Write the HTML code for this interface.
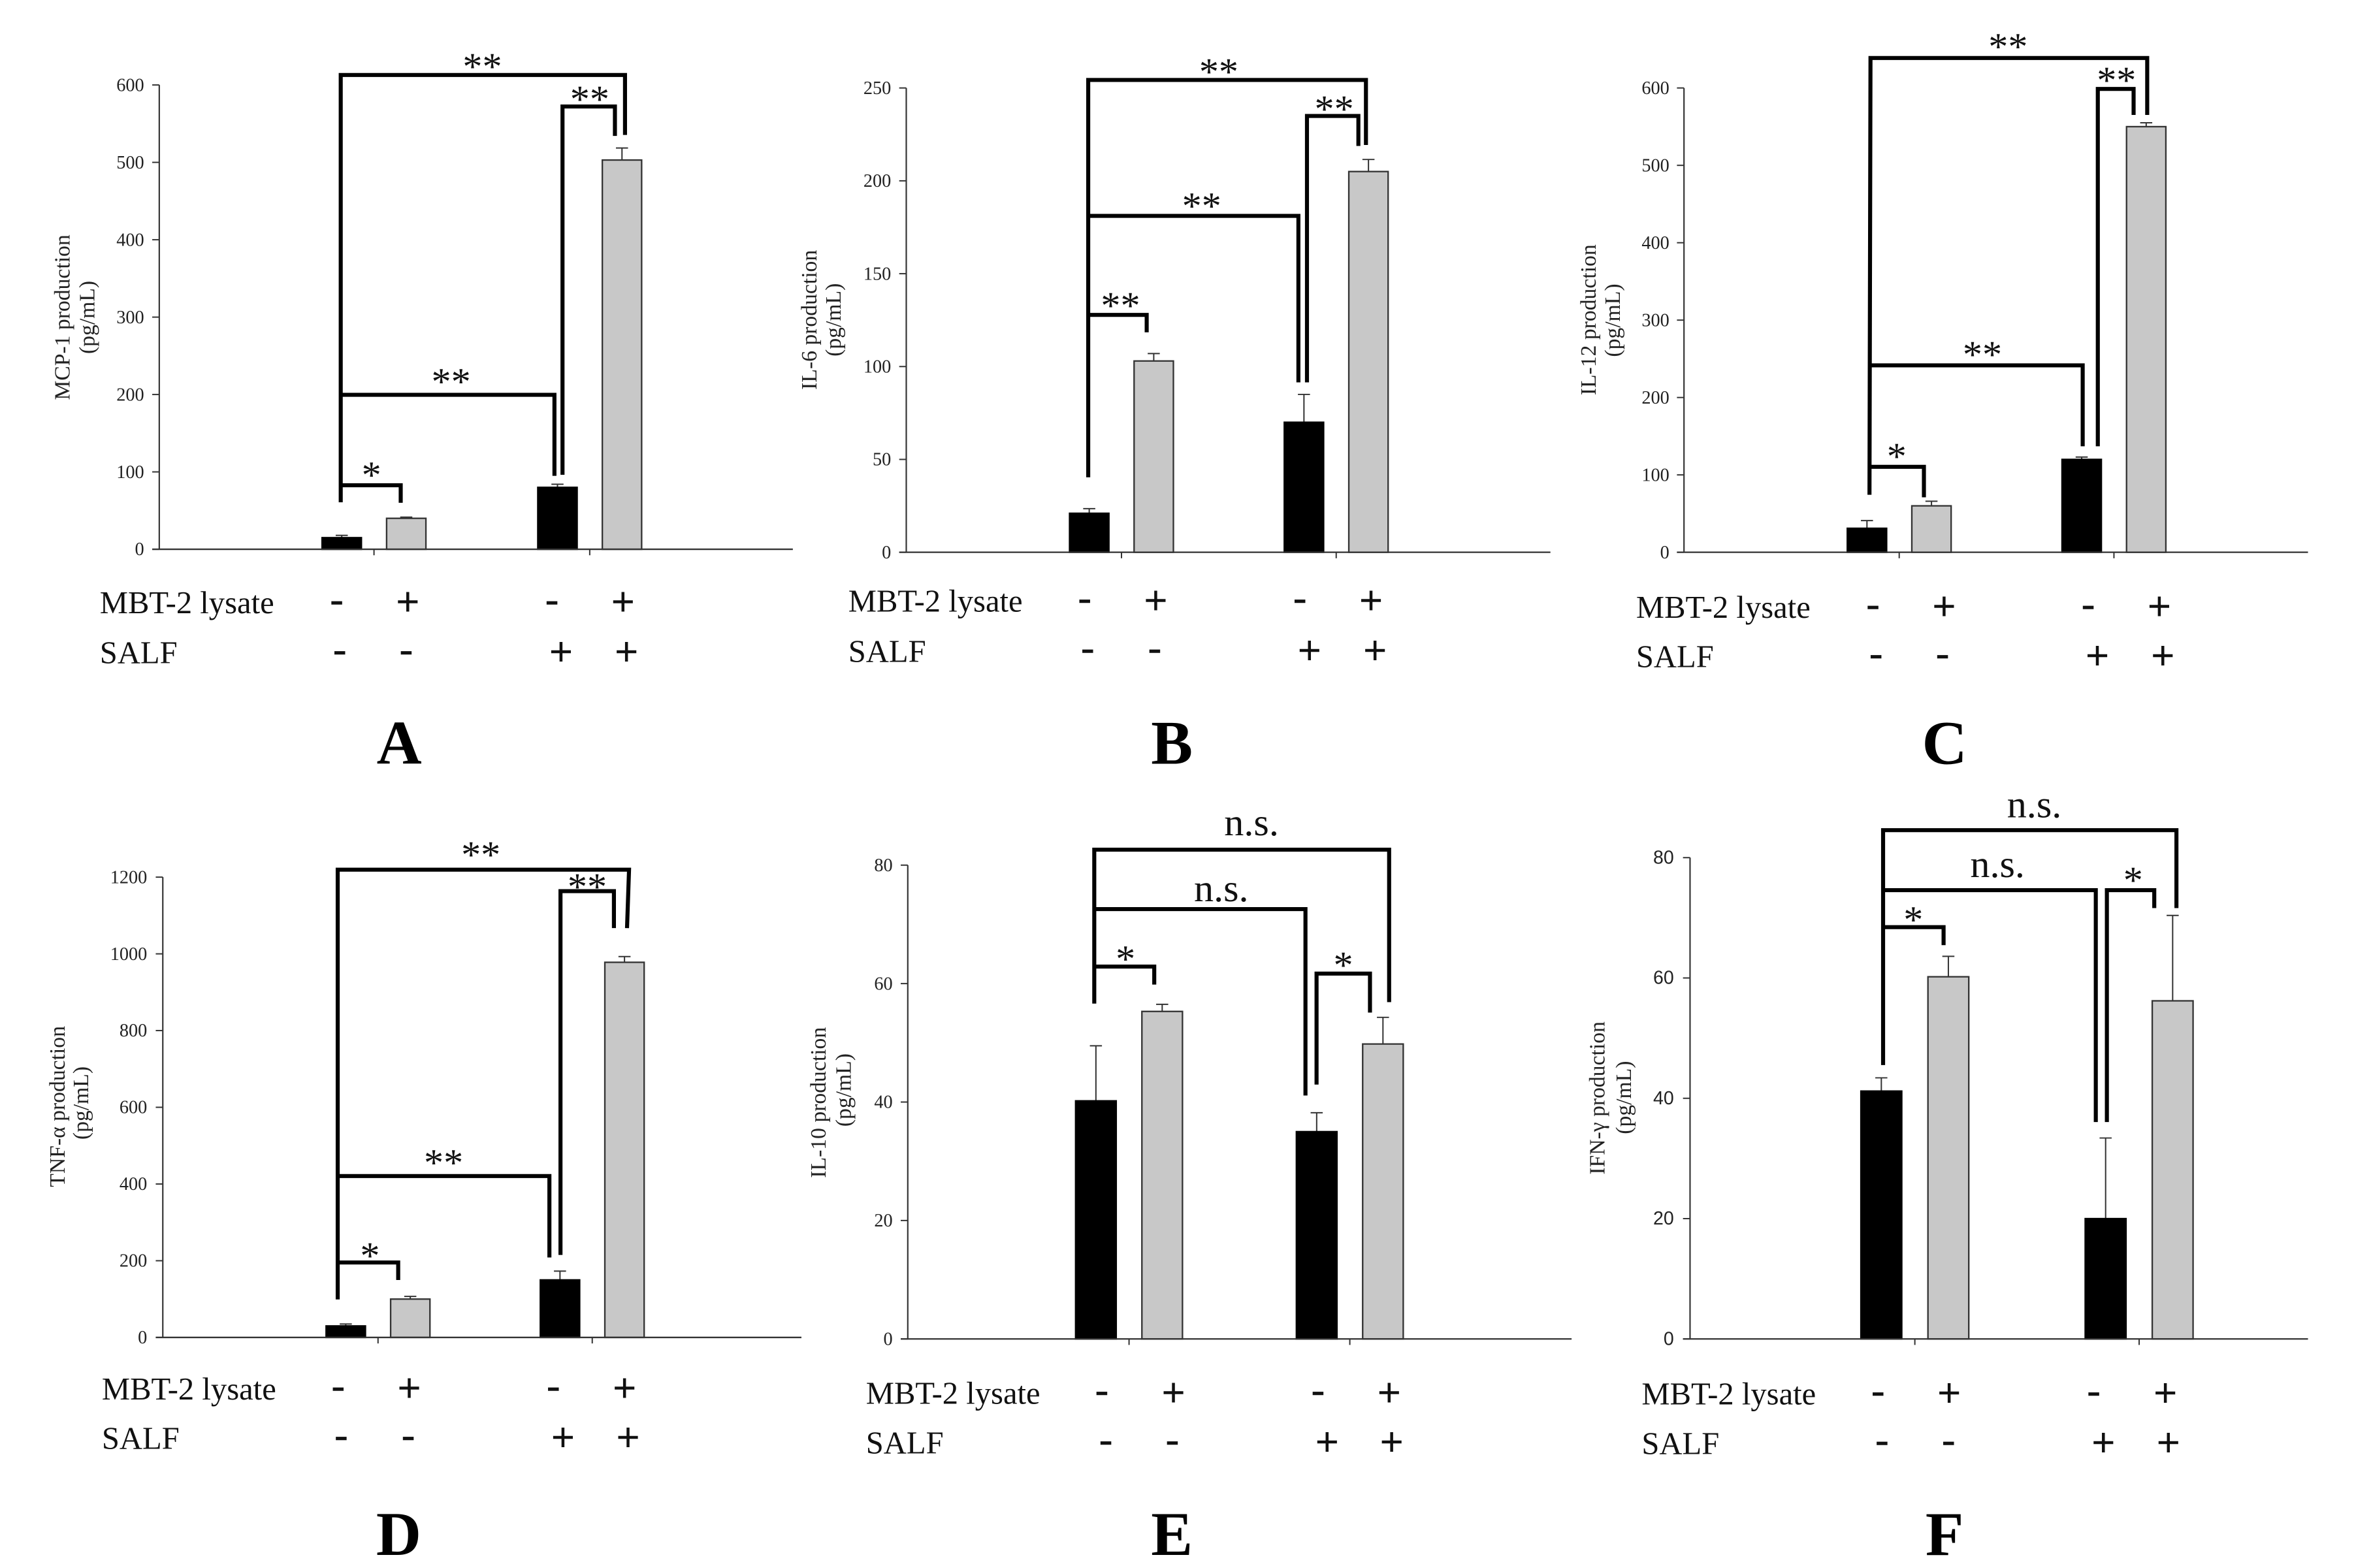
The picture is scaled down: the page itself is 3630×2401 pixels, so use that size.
<!DOCTYPE html>
<html lang="en">
<head>
<meta charset="utf-8">
<title>Cytokine production panels A-F</title>
<style>
html,body{margin:0;padding:0;background:#fff;width:3630px;height:2401px;overflow:hidden}
svg{display:block}
text{font-family:"Liberation Serif",serif}
</style>
</head>
<body>
<svg id="figure" xmlns="http://www.w3.org/2000/svg" width="3630" height="2401" viewBox="0 0 3630 2401"></svg>
<script>
// ---- data arrays ----
const rowLabels = ['MBT-2 lysate', 'SALF'];
const lysateSigns = ['-', '+', '-', '+'];
const salfSigns = ['-', '-', '+', '+'];

const mcp1Values = [15, 40, 80, 503];
const mcp1Errors = [3, 1.5, 4, 15.5];
const mcp1Ticks = [0, 100, 200, 300, 400, 500, 600];

const il6Values = [21, 103, 70, 205];
const il6Errors = [2.5, 4, 15, 6.5];
const il6Ticks = [0, 50, 100, 150, 200, 250];

const il12Values = [31, 60, 120, 550];
const il12Errors = [10, 6, 3, 5];
const il12Ticks = [0, 100, 200, 300, 400, 500, 600];

const tnfValues = [30, 100, 150, 978];
const tnfErrors = [5, 7, 23, 15];
const tnfTicks = [0, 200, 400, 600, 800, 1000, 1200];

const il10Values = [40.2, 55.3, 35, 49.8];
const il10Errors = [9.3, 1.2, 3.2, 4.5];
const il10Ticks = [0, 20, 40, 60, 80];

const ifnValues = [41.2, 60.2, 20, 56.2];
const ifnErrors = [2.2, 3.4, 13.4, 14.2];
const ifnTicks = [0, 20, 40, 60, 80];

// ---- layout (panel-crop units) ----
const panels = [
 {id:'a', letter:'A', ox:0, oy:0, vals:mcp1Values, errs:mcp1Errors, ticks:mcp1Ticks,
  axisX:316, xEnd:1573, y0:1099, yTop:170, t1:742, t2:1170, w:78, gap:25, tickFont:'"Liberation Serif",serif', tickRight:286,
  title:'MCP-1 production', tX:138, tY:635, t2X:187, t2Y:635,
  labelX:198, rows:[1207,1307],
  signs1:[668,809,1095,1236], signs2:[674,806,1113,1243],
  letterX:792, letterY:1530,
  brackets:[[[676,1005],[676,150],[1240,150],[1240,270]],[[1116,950],[1116,213],[1220,213],[1220,272]],[[676,790],[1100,790],[1100,952]],[[678,971],[795,971],[795,1006]]],
  marks:[['**',957,125],['**',1170,190],['**',895,755],['*',737,942]]},
 {id:'b', letter:'B', ox:1210, oy:0, vals:il6Values, errs:il6Errors, ticks:il6Ticks,
  axisX:230, xEnd:1508, y0:1105, yTop:176, t1:657, t2:1083, w:78, gap:25, tickFont:'"Liberation Serif",serif', tickRight:200,
  title:'IL-6 production', tX:52, tY:640, t2X:100, t2Y:640,
  labelX:115, rows:[1204,1304],
  signs1:[584,725,1011,1152], signs2:[590,723,1030,1160],
  letterX:757, letterY:1530,
  brackets:[[[591,955],[591,160],[1142,160],[1142,290]],[[1025,765],[1025,232],[1127,232],[1127,292]],[[591,432],[1008,432],[1008,765]],[[591,630],[707,630],[707,665]]],
  marks:[['**',850,135],['**',1079,210],['**',816,404],['**',655,603]]},
 {id:'c', letter:'C', ox:2420, oy:0, vals:il12Values, errs:il12Errors, ticks:il12Ticks,
  axisX:205, xEnd:1443, y0:1105, yTop:176, t1:632, t2:1058, w:78, gap:25, tickFont:'"Liberation Serif",serif', tickRight:176,
  title:'IL-12 production', tX:30, tY:640, t2X:78, t2Y:641,
  labelX:110, rows:[1216,1315],
  signs1:[580,721,1007,1148], signs2:[586,718,1025,1155],
  letterX:722, letterY:1530,
  brackets:[[[573,990],[575,116],[1124,116],[1124,230]],[[1026,893],[1026,178],[1097,178],[1097,230]],[[575,731],[996,731],[996,893]],[[575,934],[681,934],[681,995]]],
  marks:[['**',848,85],['**',1063,152],['**',797,701],['*',627,905]]},
 {id:'d', letter:'D', ox:0, oy:1200, vals:tnfValues, errs:tnfErrors, ticks:tnfTicks,
  axisX:323, xEnd:1590, y0:1108, yTop:187, t1:750, t2:1175, w:78, gap:25, tickFont:'"Liberation Serif",serif', tickRight:292,
  title:'TNF-\u03B1 production', tX:128, tY:646, t2X:175, t2Y:639,
  labelX:202, rows:[1212,1311],
  signs1:[671,812,1098,1239], signs2:[677,810,1117,1246],
  letterX:791, letterY:1545,
  brackets:[[[670,1032],[670,172],[1248,172],[1244,289]],[[1112,943],[1112,215],[1218,215],[1218,289]],[[672,785],[1090,785],[1090,948]],[[672,958],[790,958],[790,993]]],
  marks:[['**',954,134],['**',1165,198],['**',880,750],['*',734,936]]},
 {id:'e', letter:'E', ox:1210, oy:1200, vals:il10Values, errs:il10Errors, ticks:il10Ticks,
  axisX:233, xEnd:1550, y0:1111, yTop:163, t1:672, t2:1110, w:80.5, gap:25.5, tickFont:'"Liberation Serif",serif', tickRight:203,
  title:'IL-10 production', tX:70, tY:638, t2X:120, t2Y:613,
  labelX:150, rows:[1221,1320],
  signs1:[618,760,1047,1188], signs2:[626,758,1065,1193],
  letterX:757, letterY:1545,
  brackets:[[[603,440],[603,132],[1188,132],[1188,437]],[[605,251],[1022,251],[1022,624]],[[605,366],[722,366],[722,402]],[[1044,602],[1044,380],[1150,380],[1150,458]]],
  marks:[['n.s.',915,103],['n.s.',855,235],['*',665,342],['*',1097,355]]},
 {id:'f', letter:'F', ox:2420, oy:1200, vals:ifnValues, errs:ifnErrors, ticks:ifnTicks,
  axisX:217, xEnd:1443, y0:1111, yTop:148, t1:663, t2:1108, w:81, gap:26, tickFont:'"Liberation Sans",sans-serif', tickRight:185,
  title:'IFN-\u03B3 production', tX:47, tY:629, t2X:100, t2Y:628,
  labelX:121, rows:[1222,1321],
  signs1:[590,731,1018,1160], signs2:[598,730,1037,1166],
  letterX:722, letterY:1545,
  brackets:[[[600,563],[600,93],[1182,93],[1182,249]],[[602,213],[1022,213],[1022,677]],[[1044,677],[1044,213],[1138,213],[1138,249]],[[602,287],[720,287],[720,323]]],
  marks:[['n.s.',900,67],['n.s.',827,187],['*',660,264],['*',1096,185]]}
];

const UNIT_X = 1210 / 1568;
const UNIT_Y = 1200 / 1568;
const NS = 'http://www.w3.org/2000/svg';
const root = document.getElementById('figure');

function make(tag, attrs, parent, content) {
  const node = document.createElementNS(NS, tag);
  for (const k in attrs) node.setAttribute(k, attrs[k]);
  if (content !== undefined) node.textContent = content;
  parent.appendChild(node);
  return node;
}

panels.forEach(function (p) {
  const yOf = function (v) {
    const max = p.ticks[p.ticks.length - 1];
    return p.y0 - (v / max) * (p.y0 - p.yTop);
  };
  const xOf = function (i) {
    const tick = i < 2 ? p.t1 : p.t2;
    return i % 2 === 0 ? tick - p.gap - p.w : tick + p.gap;
  };
  let el;

  const g = make('g', {transform: 'translate(' + p.ox + ',' + p.oy + ') scale(' + UNIT_X + ',' + UNIT_Y + ')'}, root);
  
  

  // bars and error bars
  p.vals.forEach(function (v, i) {
    const x = xOf(i);
    const cx = x + p.w / 2;
    const top = yOf(v + p.errs[i]);
    el = make('line', {x1: cx, x2: cx, y1: yOf(v), y2: top, stroke: '#333', 'stroke-width': 2.6}, g);
    
    
    el = make('line', {x1: cx - 12, x2: cx + 12, y1: top, y2: top, stroke: '#333', 'stroke-width': 2.6}, g);
    
    
    const grey = i % 2 === 1;
    el = make('rect', {
      x: x, y: yOf(v), width: p.w, height: p.y0 - yOf(v),
      fill: grey ? '#c8c8c8' : '#000', stroke: grey ? '#333' : '#000', 'stroke-width': 3
    }, g);
    
    
  });

  // axes
  el = make('line', {x1: p.axisX, x2: p.axisX, y1: p.yTop, y2: p.y0, stroke: '#333', 'stroke-width': 2.8}, g);
  
  
  el = make('line', {x1: p.axisX - 14, x2: p.xEnd, y1: p.y0, y2: p.y0, stroke: '#333', 'stroke-width': 3}, g);
  
  
  [p.t1, p.t2].forEach(function (t, i) {
    el = make('line', {x1: t, x2: t, y1: p.y0, y2: p.y0 + 12, stroke: '#333', 'stroke-width': 2.6}, g);
    
    
  });
  p.ticks.forEach(function (t) {
    const y = yOf(t);
    el = make('line', {x1: p.axisX - 14, x2: p.axisX, y1: y, y2: y, stroke: '#333', 'stroke-width': 2.6}, g);
    
    
    el = make('text', {x: p.tickRight, y: y + 12, 'text-anchor': 'end', 'font-size': p.id === 'f' ? 37 : 36.7, fill: '#222', style: 'font-family:' + p.tickFont}, g, String(t));
    
    
  });

  // axis title
  el = make('text', {transform: 'translate(' + p.tX + ',' + p.tY + ') rotate(-90)', 'text-anchor': 'middle', 'font-size': 44, fill: '#222'}, g, p.title);
  
  
  el = make('text', {transform: 'translate(' + p.t2X + ',' + p.t2Y + ') rotate(-90)', 'text-anchor': 'middle', 'font-size': 44, fill: '#222'}, g, '(pg/mL)');
  
  

  // condition rows
  rowLabels.forEach(function (label, r) {
    el = make('text', {x: p.labelX, y: p.rows[r] + 20, 'font-size': 63, fill: '#111'}, g, label);
    
    
    const signs = r === 0 ? lysateSigns : salfSigns;
    const xs = r === 0 ? p.signs1 : p.signs2;
    signs.forEach(function (s, i) {
      const plus = s === '+';
      el = make('text', {x: xs[i], y: p.rows[r] + (plus ? 24 : 18), 'text-anchor': 'middle', 'font-size': 80, fill: '#111', stroke: '#111', 'stroke-width': plus ? 1.8 : 0.6}, g, s);
      
      
    });
  });

  // significance brackets
  p.brackets.forEach(function (pts, i) {
    el = make('polyline', {points: pts.map(function (q) { return q.join(','); }).join(' '), fill: 'none', stroke: '#000', 'stroke-width': 8, 'stroke-linejoin': 'miter'}, g);
    
    
  });
  p.marks.forEach(function (m, i) {
    const ns = m[0] === 'n.s.';
    el = make('text', {x: m[1], y: ns ? m[2] : m[2] + 34, 'text-anchor': 'middle', 'font-size': 78, fill: '#111'}, g, m[0]);
    
    
  });

  // panel letter
  el = make('text', {x: p.letterX, y: p.letterY - 2, 'text-anchor': 'middle', 'font-size': 124, 'font-weight': 'bold', fill: '#000'}, g, p.letter);
  
  
});
</script>
</body>
</html>
